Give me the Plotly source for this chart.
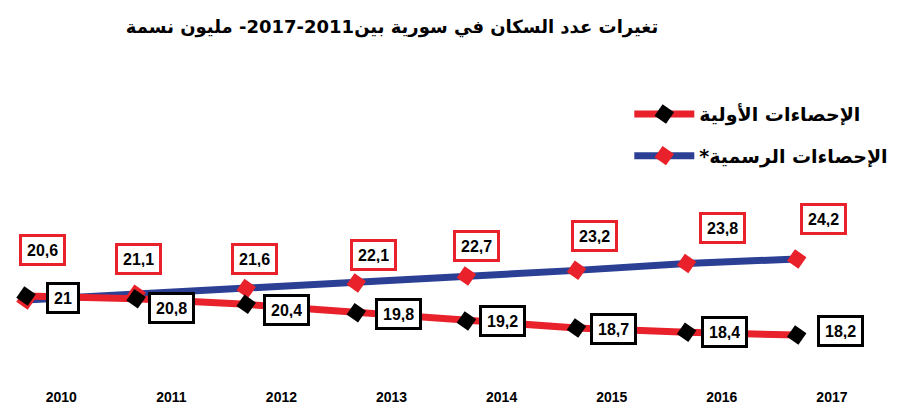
import plotly.graph_objects as go

years = [2010, 2011, 2012, 2013, 2014, 2015, 2016, 2017]
official = [20.6, 21.1, 21.6, 22.1, 22.7, 23.2, 23.8, 24.2]
preliminary = [21, 20.8, 20.4, 19.8, 19.2, 18.7, 18.4, 18.2]
year_labels = [str(y) for y in years]

name_official = "الإحصاءات الرسمية*\u200f"
name_prelim = "الإحصاءات الأولية"
title_text = "تغيرات عدد السكان في سورية بين2011\u200f-2017\u200f- مليون نسمة"

# label box nudges (px) relative to their point
official_label_dx = [16, 2, 8, 17, 10, 18, 36, 27]
official_label_dy = [50, 35, 30, 28, 30, 34, 36, 40]
prelim_label_dx = [37, 35, 40, 42, 36, 37, 38, 44]
prelim_label_dy = [-2, -9, -6, -1, 0, -1, 0, 4]

BLUE = "#2b3f94"
RED = "#e8212a"
BLACK = "#000000"

def fmt(v):
    return f"{v:g}".replace(".", ",")

fig = go.Figure()
fig.add_trace(go.Scatter(
    x=years, y=official, yaxis="y", mode="lines+markers",
    line=dict(color=BLUE, width=7),
    marker=dict(symbol="square", size=14, color=RED, angle=35),
    name=name_official, legendrank=2, legendgroup="b",
))
fig.add_trace(go.Scatter(
    x=years, y=preliminary, yaxis="y2", mode="lines+markers",
    line=dict(color=RED, width=7),
    marker=dict(symbol="square", size=14, color=BLACK, angle=35),
    name=name_prelim, legendrank=1, legendgroup="a",
))

box_font = dict(family="Liberation Sans", size=16, color="black", weight="bold")
annotations = []
for x, v, dx, dy in zip(years, official, official_label_dx, official_label_dy):
    annotations.append(dict(
        x=x, y=v, xref="x", yref="y", text=fmt(v), showarrow=False,
        xshift=dx, yshift=dy, bgcolor="white", bordercolor=RED,
        borderwidth=3, borderpad=5, height=16, font=box_font,
    ))
for x, v, dx, dy in zip(years, preliminary, prelim_label_dx, prelim_label_dy):
    annotations.append(dict(
        x=x, y=v, xref="x", yref="y2", text=fmt(v), showarrow=False,
        xshift=dx, yshift=dy, bgcolor="white", bordercolor=BLACK,
        borderwidth=3, borderpad=5, height=16, font=box_font,
    ))

fig.update_layout(
    width=908, height=419,
    margin=dict(l=0, r=0, t=100, b=44, autoexpand=False),
    paper_bgcolor="white", plot_bgcolor="white",
    title=dict(text=title_text, x=0.423, xanchor="center", y=0.955, yanchor="middle",
               font=dict(family="DejaVu Sans", size=18, color="black", weight="bold")),
    xaxis=dict(range=[2009.8365, 2018.0836], tickvals=[y + 0.32 for y in years],
               ticktext=year_labels, showgrid=False, zeroline=False, showline=False,
               ticks="", ticklabelstandoff=4, automargin=False,
               tickfont=dict(family="Liberation Sans", size=14, color="black", weight="bold")),
    yaxis=dict(range=[13.313, 37.453], visible=False, showgrid=False, automargin=False),
    yaxis2=dict(range=[14.755, 34.495], visible=False, showgrid=False, overlaying="y",
                automargin=False),
    legend=dict(x=0.975, xanchor="right", y=1.047, yanchor="top",
                font=dict(family="DejaVu Sans", size=19, color="black", weight="bold"),
                tracegroupgap=14, itemwidth=60, bgcolor="rgba(0,0,0,0)"),
    annotations=annotations,
    showlegend=True,
)

fig.write_html("out.html")
